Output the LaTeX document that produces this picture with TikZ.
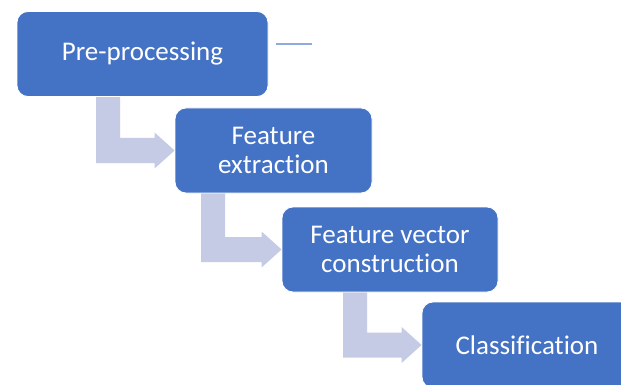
\documentclass[tikz,border=0pt]{standalone}
\usepackage{fontspec}
\setmainfont{Carlito}[Ligatures={NoCommon}]
\usetikzlibrary{calc,backgrounds}
\definecolor{stepblue}{RGB}{68,114,196}
\definecolor{flowtint}{RGB}{197,203,228}
\definecolor{ticktint}{RGB}{143,170,220}
\tikzset{
  stepbox/.style={rectangle, rounded corners=11pt, fill=stepblue, draw=white,
    line width=0.8pt, text=white, align=center, inner sep=0pt,
    font=\fontsize{27}{29}\selectfont},
  elbowfill/.style={fill=flowtint, draw=none}
}
% bent arrow from the bottom of #1 into the left side of #2, shaft starting at x = #3
\newcommand{\elbowarrow}[3]{%
  \coordinate (shaft) at (#3,0);
  \fill[elbowfill] (shaft |- #1.south) -- ($(shaft |- #1.south)+(24,0)$)
    -- ($(shaft |- #2.west)+(24,-12.5)$) -- ($(#2.west)+(-20,-12.5)$)
    -- ($(#2.west)+(-20,-18)$) -- (#2.west) -- ($(#2.west)+(-20,18)$)
    -- ($(#2.west)+(-20,12.5)$) -- ($(shaft |- #2.west)+(0,12.5)$) -- cycle;}
\begin{document}
\begin{tikzpicture}[x=1pt,y=-1pt]
  \clip (0,0) rectangle (621,385);
  \useasboundingbox (0,0) rectangle (621,385);
  \node[stepbox, minimum width=251pt, minimum height=85pt] (pre) at (142.5,54) {Pre-processing};
  \node[stepbox, minimum width=197pt, minimum height=85pt] (fex) at (273.5,150.5) {Feature\\extraction};
  \node[stepbox, minimum width=216pt, minimum height=85pt] (fvc) at (390,249.5) {Feature vector\\construction};
  \node[stepbox, minimum width=210pt, minimum height=86pt] (cls) at (527,345) {Classification};
  \coordinate (tickend) at (312,44);
  \draw[ticktint, line width=1.2pt] (tickend -| pre.east) ++(8,0) -- (tickend);
  \begin{scope}[on background layer]
    \elbowarrow{pre}{fex}{96}
    \elbowarrow{fex}{fvc}{201}
    \elbowarrow{fvc}{cls}{343}
  \end{scope}
\end{tikzpicture}
\end{document}
